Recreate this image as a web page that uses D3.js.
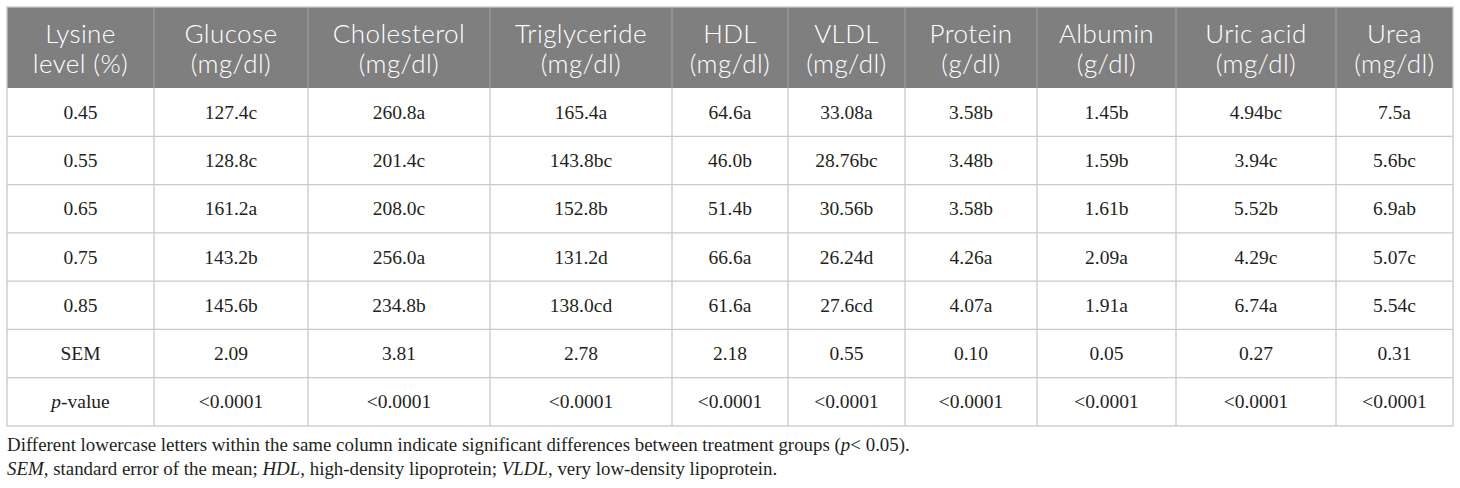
<!DOCTYPE html>
<html>
<head>
	<meta charset="utf-8">
	<title>Lysine level table</title>
	<script src="https://cdn.jsdelivr.net/npm/d3@7"></script>
	<style>
		body { margin: 0; background: #ffffff; }
		.head { font-family: Lato, "Open Sans", sans-serif; font-size: 26px; font-weight: 300; letter-spacing: 0.4px; fill: #ffffff; }
		.cell { font-family: "Liberation Serif", "Times New Roman", serif; font-size: 19.5px; fill: #231f20; }
		.note { font-family: "Liberation Serif", "Times New Roman", serif; font-size: 18.9px; fill: #231f20; }
	</style>
</head>
<body>
	<div id="chart"></div>
	<script>

		// data

		const columns = [
			["Lysine", "level (%)"],
			["Glucose", "(mg/dl)"],
			["Cholesterol", "(mg/dl)"],
			["Triglyceride", "(mg/dl)"],
			["HDL", "(mg/dl)"],
			["VLDL", "(mg/dl)"],
			["Protein", "(g/dl)"],
			["Albumin", "(g/dl)"],
			["Uric acid", "(mg/dl)"],
			["Urea", "(mg/dl)"]
		];
		const rowLabels = ["0.45", "0.55", "0.65", "0.75", "0.85", "SEM", "p-value"];

		const glucose      = ["127.4c", "128.8c", "161.2a", "143.2b", "145.6b", "2.09", "<0.0001"];
		const cholesterol  = ["260.8a", "201.4c", "208.0c", "256.0a", "234.8b", "3.81", "<0.0001"];
		const triglyceride = ["165.4a", "143.8bc", "152.8b", "131.2d", "138.0cd", "2.78", "<0.0001"];
		const hdl          = ["64.6a", "46.0b", "51.4b", "66.6a", "61.6a", "2.18", "<0.0001"];
		const vldl         = ["33.08a", "28.76bc", "30.56b", "26.24d", "27.6cd", "0.55", "<0.0001"];
		const protein      = ["3.58b", "3.48b", "3.58b", "4.26a", "4.07a", "0.10", "<0.0001"];
		const albumin      = ["1.45b", "1.59b", "1.61b", "2.09a", "1.91a", "0.05", "<0.0001"];
		const uricAcid     = ["4.94bc", "3.94c", "5.52b", "4.29c", "6.74a", "0.27", "<0.0001"];
		const urea         = ["7.5a", "5.6bc", "6.9ab", "5.07c", "5.54c", "0.31", "<0.0001"];

		const footnotes = [
			[["Different lowercase letters within the same column indicate significant differences between treatment groups (", false], ["p", true], ["< 0.05).", false]],
			[["SEM", true], [", standard error of the mean; ", false], ["HDL", true], [", high-density lipoprotein; ", false], ["VLDL", true], [", very low-density lipoprotein.", false]]
		];

		// layout

		const width = 1460, height = 488;
		const tableLeft = 7, tableRight = 1453, tableTop = 7, headBottom = 88, tableBottom = 426;
		const colWeights = [147, 154, 182, 182, 116, 117, 132, 139, 160, 117];
		const headFill = "#7f7f7f";
		const gridColor = "#c9c9c9";

		const series = [rowLabels, glucose, cholesterol, triglyceride, hdl, vldl, protein, albumin, uricAcid, urea];

		const svg = d3.select("#chart").append("svg")
			.attr("width", width)
			.attr("height", height)
			.attr("viewBox", [0, 0, width, height]);

		// column edges from cumulative weights through a linear scale
		const edges = [0].concat(Array.from(d3.cumsum(colWeights)));
		const xs = d3.scaleLinear().domain([0, d3.sum(colWeights)]).range([tableLeft, tableRight]);
		const colX = i => xs(edges[i]);
		const colW = i => xs(edges[i + 1]) - xs(edges[i]);

		const y = d3.scaleBand().domain(d3.range(rowLabels.length)).range([headBottom, tableBottom]);

		// header
		svg.append("rect")
			.attr("x", tableLeft).attr("y", tableTop)
			.attr("width", tableRight - tableLeft).attr("height", headBottom - tableTop)
			.attr("fill", headFill);

		svg.append("g").selectAll("text")
			.data(columns)
			.join("text")
			.attr("class", "head")
			.attr("text-anchor", "middle")
			.each(function (d, i) {
				const cx = colX(i) + colW(i) / 2;
				d3.select(this).selectAll("tspan")
					.data(d)
					.join("tspan")
					.attr("x", cx)
					.attr("y", (t, k) => 43 + k * 30)
					.text(t => t);
			});

		// grid lines
		svg.append("g").selectAll("line")
			.data(d3.range(1, columns.length))
			.join("line")
			.attr("x1", colX).attr("x2", colX)
			.attr("y1", tableTop).attr("y2", headBottom)
			.attr("stroke", "#a3a3a3").attr("stroke-width", 1);

		svg.append("g").selectAll("line")
			.data(d3.range(1, columns.length))
			.join("line")
			.attr("x1", colX).attr("x2", colX)
			.attr("y1", headBottom).attr("y2", tableBottom)
			.attr("stroke", gridColor).attr("stroke-width", 1.3);

		svg.append("g").selectAll("line")
			.data(d3.range(1, rowLabels.length))
			.join("line")
			.attr("x1", tableLeft).attr("x2", tableRight)
			.attr("y1", i => y(i)).attr("y2", i => y(i))
			.attr("stroke", gridColor).attr("stroke-width", 1.3);

		svg.append("rect")
			.attr("x", tableLeft).attr("y", tableTop)
			.attr("width", tableRight - tableLeft).attr("height", tableBottom - tableTop)
			.attr("fill", "none")
			.attr("stroke", gridColor).attr("stroke-width", 1.3);

		// body cells
		const cells = [];
		series.forEach((s, c) => s.forEach((v, r) => cells.push({ c, r, v })));

		svg.append("g").selectAll("text")
			.data(cells)
			.join("text")
			.attr("class", "cell")
			.attr("text-anchor", "middle")
			.attr("x", d => colX(d.c) + colW(d.c) / 2)
			.attr("y", d => y(d.r) + y.bandwidth() / 2 + 6.5)
			.each(function (d) {
				const t = d3.select(this);
				if (d.v === "p-value") {
					t.append("tspan").attr("font-style", "italic").text("p");
					t.append("tspan").text("-value");
				} else {
					t.text(d.v);
				}
			});

		// footnotes
		svg.append("g").selectAll("text")
			.data(footnotes)
			.join("text")
			.attr("class", "note")
			.attr("x", tableLeft)
			.attr("y", (d, i) => 451 + i * 24)
			.selectAll("tspan")
			.data(d => d)
			.join("tspan")
			.attr("font-style", d => d[1] ? "italic" : "normal")
			.text(d => d[0]);

	</script>
</body>
</html>
